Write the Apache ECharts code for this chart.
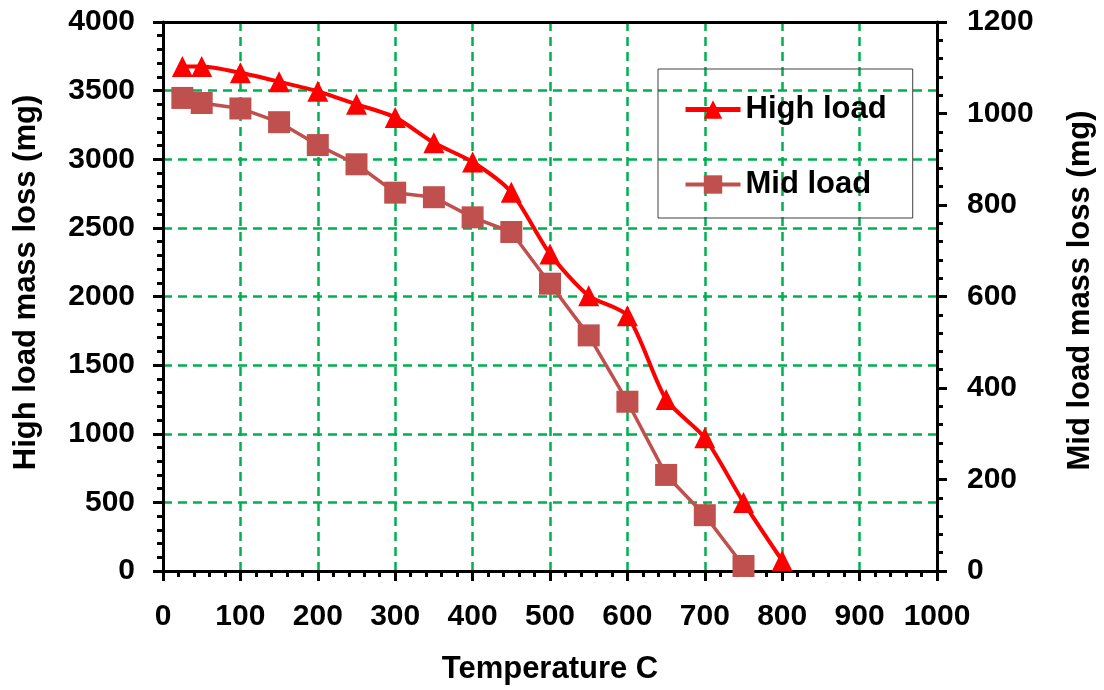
<!DOCTYPE html>
<html>
<head>
<meta charset="utf-8">
<script src="https://cdn.jsdelivr.net/npm/echarts@6/dist/echarts.min.js"></script>
<style>
  html, body { margin: 0; padding: 0; background: #fff; }
  #chart { width: 1104px; height: 690px; }
</style>
</head>
<body>
<div id="chart"></div>
<script>
// temperatures (C)
const temps = [25, 50, 100, 150, 200, 250, 300, 350, 400, 450, 500, 550, 600, 650, 700, 750, 800]
// high load mass loss, left axis (mg)
const highLoad = [3675, 3675, 3630, 3565, 3495, 3400, 3305, 3120, 2980, 2760, 2310, 2005, 1860, 1250, 970, 500, 75]
// mid load mass loss, right axis (mg)
const midTemps = [25, 50, 100, 150, 200, 250, 300, 350, 400, 450, 500, 550, 600, 650, 700, 750]
const midLoad = [1034, 1023, 1011, 981, 931, 889, 827, 817, 773, 741, 628, 515, 370, 210, 122, 11]

const font = 'Liberation Sans, Arial, sans-serif'
const gridGreen = '#00B050'

const pairs = (xs, ys) => xs.map((x, i) => [x, ys[i]])
const plain = v => String(v)

const chart = echarts.init(document.getElementById('chart'))

const tickLabel = {
  color: '#000',
  fontFamily: font,
  fontWeight: 'bold',
  fontSize: 30,
  formatter: plain
}
const titleStyle = { color: '#000', fontFamily: font, fontWeight: 'bold', fontSize: 31 }
const blackLine = { color: '#000', width: 3 }
const dashed = { color: gridGreen, width: 2.5, type: [9, 6] }

const option = {
  animation: false,
  backgroundColor: '#fff',
  grid: { left: 163, right: 164, top: 22, bottom: 117 },
  legend: {
    orient: 'vertical',
    left: 658,
    top: 69,
    padding: [25, 26, 18, 25],
    itemGap: 44,
    itemWidth: 55,
    itemHeight: 23,
    borderColor: '#404040',
    borderWidth: 1,
    backgroundColor: 'transparent',
    textStyle: { color: '#000', fontFamily: font, fontWeight: 'bold', fontSize: 31 },
    data: [
      { name: 'High load', lineStyle: { width: 5 } },
      { name: 'Mid load', lineStyle: { width: 4 } }
    ]
  },
  xAxis: [
    {
      type: 'value',
      min: 0,
      max: 1000,
      interval: 100,
      name: 'Temperature C',
      nameLocation: 'middle',
      nameGap: 83,
      nameTextStyle: titleStyle,
      axisLine: { show: true, onZero: false, lineStyle: blackLine },
      axisTick: { show: true, inside: false, length: 10, lineStyle: blackLine },
      minorTick: { show: true, splitNumber: 5, length: 6, lineStyle: blackLine },
      axisLabel: Object.assign({ margin: 31 }, tickLabel),
      splitLine: { show: true, lineStyle: dashed }
    },
    {
      type: 'value',
      position: 'top',
      min: 0,
      max: 1000,
      axisLine: { show: true, onZero: false, lineStyle: blackLine },
      axisTick: { show: false },
      axisLabel: { show: false },
      splitLine: { show: false }
    }
  ],
  yAxis: [
    {
      type: 'value',
      min: 0,
      max: 4000,
      interval: 500,
      name: 'High load mass loss (mg)',
      nameLocation: 'middle',
      nameRotate: 90,
      nameGap: 121,
      nameTextStyle: Object.assign({ padding: [0, 0, 0, 28] }, titleStyle),
      axisLine: { show: true, onZero: false, lineStyle: blackLine },
      axisTick: { show: true, inside: false, length: 10, lineStyle: blackLine },
      minorTick: { show: true, splitNumber: 5, length: 6, lineStyle: blackLine },
      axisLabel: Object.assign({ margin: 28 }, tickLabel),
      splitLine: { show: true, lineStyle: dashed }
    },
    {
      type: 'value',
      position: 'right',
      min: 0,
      max: 1200,
      interval: 200,
      name: 'Mid load mass loss (mg)',
      nameLocation: 'middle',
      nameRotate: 90,
      nameGap: 128,
      nameTextStyle: Object.assign({ padding: [0, 0, 0, 12] }, titleStyle),
      axisLine: { show: true, onZero: false, lineStyle: blackLine },
      axisTick: { show: true, inside: false, length: 10, lineStyle: blackLine },
      minorTick: { show: true, splitNumber: 5, length: 6, lineStyle: blackLine },
      axisLabel: Object.assign({ margin: 30 }, tickLabel),
      splitLine: { show: false }
    }
  ],
  series: [
    {
      name: 'Mid load',
      type: 'line',
      yAxisIndex: 1,
      data: pairs(midTemps, midLoad),
      symbol: 'rect',
      symbolSize: 22,
      color: '#C0504D',
      lineStyle: { color: '#C0504D', width: 3.5 },
      itemStyle: { color: '#C0504D' },
      z: 2
    },
    {
      name: 'High load',
      type: 'line',
      yAxisIndex: 0,
      data: pairs(temps, highLoad),
      smooth: 0.25,
      symbol: 'triangle',
      symbolSize: 21,
      color: '#FF0000',
      lineStyle: { color: '#FF0000', width: 4 },
      itemStyle: { color: '#FF0000' },
      z: 3
    }
  ]
}

chart.setOption(option)
</script>
</body>
</html>
